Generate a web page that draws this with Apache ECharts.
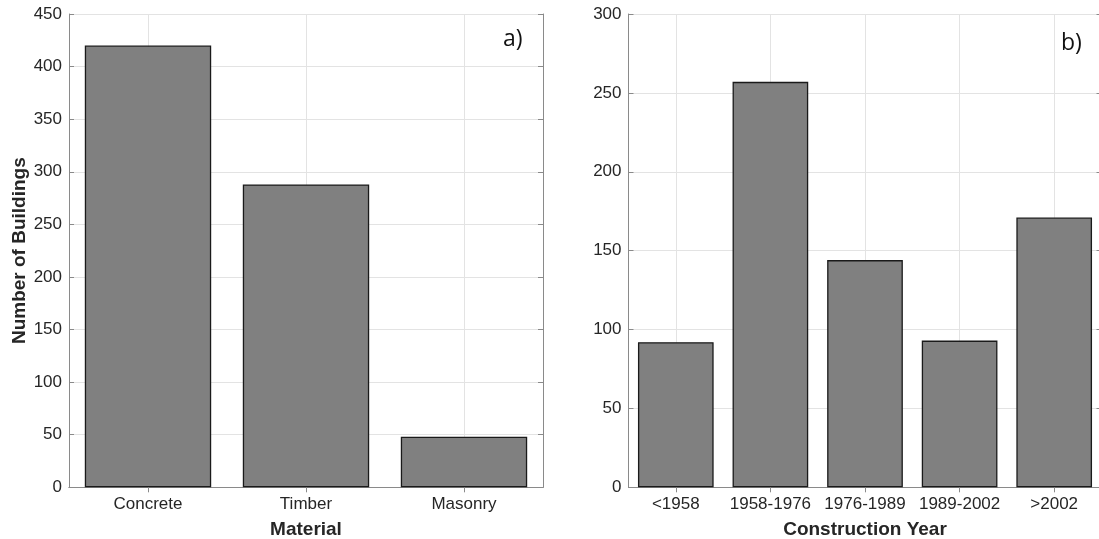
<!DOCTYPE html>
<html><head><meta charset="utf-8">
<script src="https://cdn.jsdelivr.net/npm/echarts@6/dist/echarts.min.js"></script>
<style>html,body{margin:0;padding:0;background:#fff}#c{width:1099px;height:539px}</style>
</head><body><div id="c"></div>
<script>
const materialCats = ['Concrete', 'Timber', 'Masonry'];
const materialCounts = [420, 288, 48];
const yearCats = ['<1958', '1958-1976', '1976-1989', '1989-2002', '>2002'];
const yearCounts = [92, 257, 144, 93, 171];
const leftAxisMax = 450;
const rightAxisMax = 300;
const tickStep = 50;

const FONT = '"Liberation Sans", Arial, sans-serif';
const gridColor = '#e3e3e3';
const boxColor = '#8a8a8a';
const textColor = '#262626';

function xAxes(gridIndex, cats, name) {
  return [{
    type: 'category', gridIndex: gridIndex, data: cats, position: 'bottom',
    axisLine: {show: true, lineStyle: {color: boxColor, width: 1}},
    axisTick: {show: true, inside: true, alignWithLabel: true, length: 5, lineStyle: {color: boxColor}},
    axisLabel: {color: textColor, fontFamily: FONT, fontSize: 17, margin: 9, interval: 0},
    splitLine: {show: false},
    name: name, nameLocation: 'middle', nameGap: 33,
    nameTextStyle: {color: textColor, fontFamily: FONT, fontSize: 19, fontWeight: 'bold'}
  }, {
    type: 'category', gridIndex: gridIndex, data: cats, position: 'top',
    axisLine: {show: true, lineStyle: {color: boxColor, width: 1}},
    axisTick: {show: true, inside: true, alignWithLabel: true, length: 5, lineStyle: {color: boxColor}},
    axisLabel: {show: false}, splitLine: {show: false}
  }];
}
function yAxes(gridIndex, max, name) {
  const base = {
    type: 'value', gridIndex: gridIndex, min: 0, max: max, interval: tickStep
  };
  return [Object.assign({}, base, {
    position: 'left',
    axisLine: {show: true, lineStyle: {color: boxColor, width: 1}},
    axisTick: {show: true, inside: true, length: 5, lineStyle: {color: boxColor}},
    axisLabel: {color: textColor, fontFamily: FONT, fontSize: 17, margin: 7},
    splitLine: {show: true, lineStyle: {color: gridColor, width: 1}},
    name: name, nameLocation: 'middle', nameGap: 40,
    nameTextStyle: {color: textColor, fontFamily: FONT, fontSize: 19, fontWeight: 'bold'}
  }), Object.assign({}, base, {
    position: 'right',
    axisLine: {show: true, lineStyle: {color: boxColor, width: 1}},
    axisTick: {show: true, inside: true, length: 5, lineStyle: {color: boxColor}},
    axisLabel: {show: false}, splitLine: {show: false}
  })];
}
function vGrid(xi, yi, cats) {
  return {
    type: 'line', xAxisIndex: xi, yAxisIndex: yi, data: [], z: 1, silent: true,
    markLine: {
      z: 1, silent: true, symbol: ['none', 'none'], label: {show: false},
      lineStyle: {color: gridColor, type: 'solid', width: 1},
      emphasis: {disabled: true},
      animation: false,
      data: cats.map(c => ({xAxis: c}))
    }
  };
}
function bars(xi, yi, vals) {
  return {
    type: 'bar', xAxisIndex: xi, yAxisIndex: yi, data: vals, barWidth: '80%', z: 3,
    itemStyle: {color: '#808080', borderColor: '#1a1a1a', borderWidth: 1.3}
  };
}

const chart = echarts.init(document.getElementById('c'), null, {renderer: 'canvas'});
chart.setOption({
  animation: false,
  backgroundColor: '#ffffff',
  grid: [
    {left: 69, top: 14, width: 474, height: 473.3, containLabel: false, outerBoundsMode: 'none'},
    {left: 628.5, top: 14, width: 473, height: 473.3, containLabel: false, outerBoundsMode: 'none'}
  ],
  xAxis: [].concat(xAxes(0, materialCats, 'Material'), xAxes(1, yearCats, 'Construction Year')),
  yAxis: [].concat(yAxes(0, leftAxisMax, 'Number of Buildings'), yAxes(1, rightAxisMax, '')),
  series: [
    vGrid(0, 0, materialCats),
    bars(0, 0, materialCounts),
    vGrid(2, 2, yearCats),
    bars(2, 2, yearCounts)
  ],
  graphic: [
    {type: 'text', left: 503, top: 28, style: {text: 'a)', fontFamily: '"Open Sans", sans-serif', fontSize: 23, fill: '#111'}},
    {type: 'text', left: 1061, top: 32, style: {text: 'b)', fontFamily: '"Open Sans", sans-serif', fontSize: 23, fill: '#111'}}
  ]
});
</script></body></html>
